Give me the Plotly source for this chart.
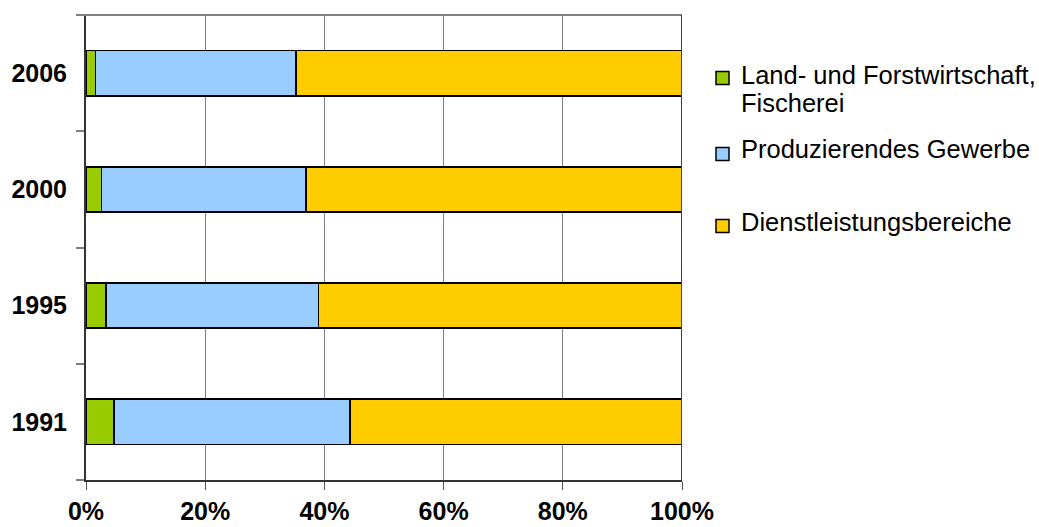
import plotly.graph_objects as go

# Anteile der Erwerbstätigen nach Wirtschaftsbereichen (in %)
years = ["1991", "1995", "2000", "2006"]
sectors = [
    "Land- und Forstwirtschaft, Fischerei",
    "Produzierendes Gewerbe",
    "Dienstleistungsbereiche",
]
land_forst = [4.7, 3.4, 2.6, 1.6]
produzierend = [39.6, 35.6, 34.3, 33.6]
dienstleistung = [55.7, 61.0, 63.1, 64.8]
x_ticks = [0, 20, 40, 60, 80, 100]
x_tick_labels = ["0%", "20%", "40%", "60%", "80%", "100%"]

colors = ["#99CC00", "#99CCFF", "#FFCC00"]
series = [land_forst, produzierend, dienstleistung]

FONT = "Arial, Liberation Sans, Helvetica, sans-serif"
W, H = 1039, 527
L, R, T, B = 86, 682, 15, 480  # plot area in pixels

fig = go.Figure()
for name, vals, col in zip(sectors, series, colors):
    fig.add_trace(go.Bar(
        y=years, x=vals, name=name, orientation="h",
        marker=dict(color=col, line=dict(color="#000000", width=1.6)),
        showlegend=False,
    ))

fig.update_layout(
    width=W, height=H,
    margin=dict(l=L, r=W - R, t=T, b=H - B, pad=0, autoexpand=False),
    barmode="stack", bargap=0.61,
    plot_bgcolor="white", paper_bgcolor="white",
    font=dict(family=FONT, color="#000000"),
    xaxis=dict(
        range=[0, 100], tickvals=x_ticks, ticktext=x_tick_labels,
        showgrid=True, gridcolor="#808080", gridwidth=1,
        showline=True, linecolor="#333333", linewidth=1.6,
        ticks="outside", ticklen=8, tickcolor="#555555", tickwidth=1,
        tickfont=dict(size=25, family=FONT, weight="bold"),
        ticklabelstandoff=0, automargin=False,
        zeroline=False, fixedrange=True,
    ),
    yaxis=dict(
        type="category", categoryorder="array", categoryarray=years,
        range=[-0.5, 3.5],
        showline=True, linecolor="#333333", linewidth=2,
        ticks="outside", ticklen=8, tickcolor="#808080", tickwidth=2,
        tickson="boundaries", showgrid=False,
        tickfont=dict(size=25, family=FONT, weight="bold"),
        ticklabelstandoff=12, automargin=False, zeroline=False,
    ),
)

# top edge and right edge of the plot frame
fig.add_shape(type="line", xref="paper", yref="paper", x0=-0.013, x1=1, y0=1, y1=1,
              line=dict(color="#808080", width=2))
fig.add_shape(type="line", xref="x", yref="paper", x0=100, x1=100, y0=0, y1=1,
              line=dict(color="#404040", width=2))

# legend drawn as squares with text
def px_x(p):
    return (p - L) / (R - L)

def px_y(p):
    return (B - p) / (B - T)

legend_lines = [[sectors[0].split(", ")[0] + ",", sectors[0].split(", ")[1]],
                [sectors[1]], [sectors[2]]]
marker_centers = [78, 154, 226]
text_rows = [[75, 103], [149], [222]]
for col, lines, mc, rows in zip(colors, legend_lines, marker_centers, text_rows):
    fig.add_shape(type="rect", xref="paper", yref="paper",
                  x0=px_x(716), x1=px_x(729), y0=px_y(mc + 6.5), y1=px_y(mc - 6.5),
                  fillcolor=col, line=dict(color="#000000", width=1.5))
    for txt, ry in zip(lines, rows):
        fig.add_annotation(text=txt, xref="paper", yref="paper",
                           x=px_x(739), y=px_y(ry), xanchor="left", yanchor="middle",
                           showarrow=False, font=dict(size=25.5, family=FONT, color="#000000"))

fig.write_html("out.html")
